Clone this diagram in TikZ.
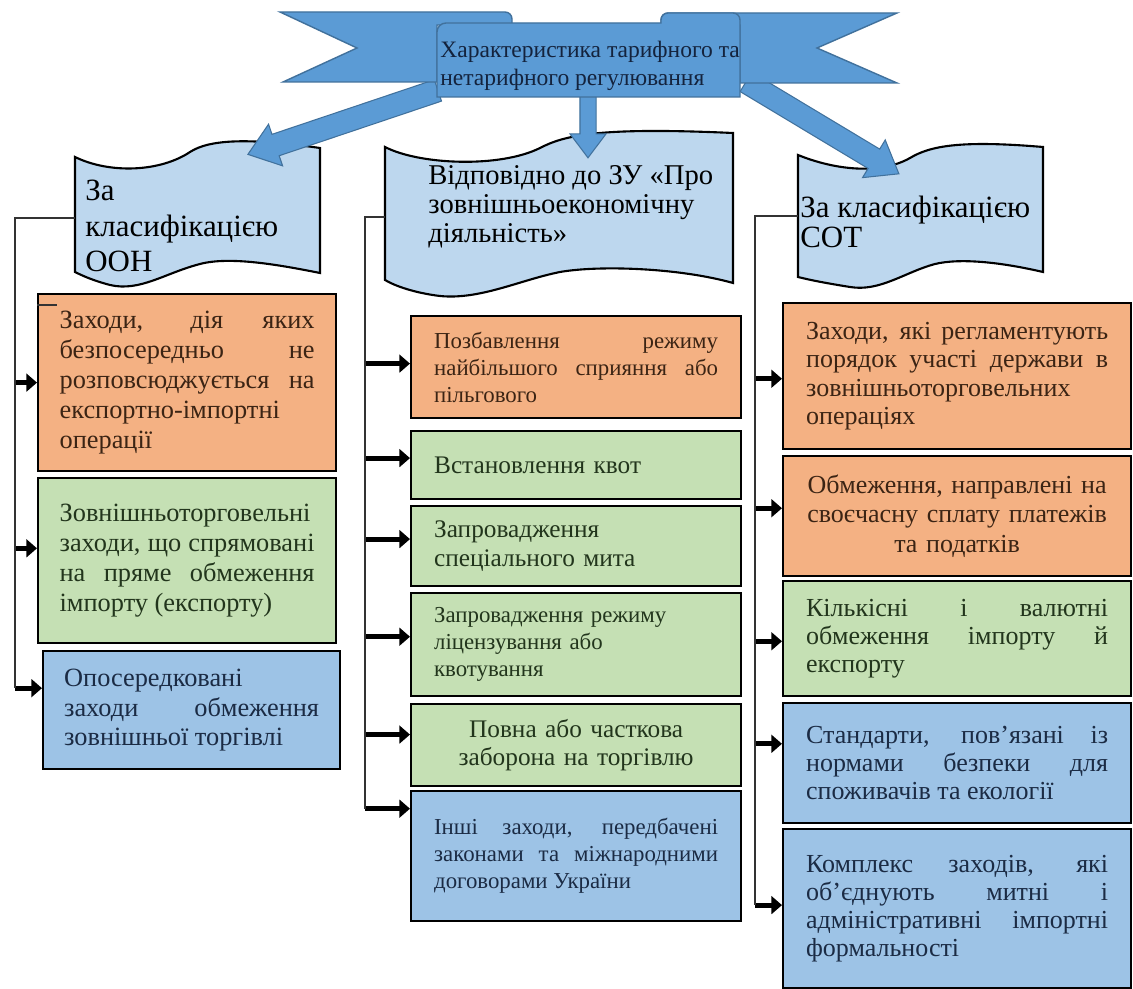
\documentclass[tikz,border=0pt]{standalone}
\usepackage{fontspec}
\setmainfont{Liberation Serif}
\usetikzlibrary{arrows.meta,shapes.arrows}
\hyphenpenalty=10000
\exhyphenpenalty=10000
\definecolor{ribbon}{HTML}{5B9BD5}
\definecolor{ribbonline}{HTML}{41719C}
\definecolor{toptext}{HTML}{14233D}
\definecolor{tapefill}{HTML}{BDD7EE}
\definecolor{orfill}{HTML}{F4B183}
\definecolor{grfill}{HTML}{C5E0B4}
\definecolor{blfill}{HTML}{9DC3E6}
\definecolor{ortext}{HTML}{3B2414}
\definecolor{grtext}{HTML}{22351C}
\definecolor{bltext}{HTML}{1B2B44}
\newcommand{\topfont}{\fontsize{13.4}{15.9}\selectfont}
\newcommand{\headfont}{\fontsize{17.6}{20}\selectfont}
\newcommand{\midheadfont}{\fontsize{16.3}{16.4}\selectfont}
\newcommand{\lcolfont}{\fontsize{15}{17}\selectfont}
\newcommand{\msmallfont}{\fontsize{13}{15.3}\selectfont}
\newcommand{\mbigfont}{\fontsize{14.4}{16.8}\selectfont}
\newcommand{\rcolfont}{\fontsize{14.8}{16.1}\selectfont}
\tikzset{
  tape/.style={fill=tapefill,draw=black,line width=1.2pt},
  band/.style={fill=ribbon,draw=ribbonline,line width=0.8pt},
  blockarrow/.style={single arrow,fill=ribbon,draw=ribbonline,line width=0.6pt,
    single arrow head extend=0.2cm,single arrow tip angle=74,inner sep=0.2cm,minimum width=0.88cm},
  headtext/.style={font=\headfont,align=left,inner sep=0,anchor=west},
  box/.style={draw=black,line width=1.3pt,anchor=north west,inner ysep=2pt,align=justify},
  orbox/.style={box,fill=orfill,text=ortext},
  grbox/.style={box,fill=grfill,text=grtext},
  blbox/.style={box,fill=blfill,text=bltext},
  bus/.style={draw=black!80,line width=0.7pt},
  flow/.style={line width=2.8pt,-{Triangle[length=6pt,width=10pt]}}
}
\begin{document}
\begin{tikzpicture}[x=0.02cm,y=-0.02cm]
\path[use as bounding box,fill=white](0,0)rectangle(1133,989);
% headers
\draw[tape](75,157)..controls(110,174)and(160,172)..(190,152)..controls(210,139)and(250,138)..(320,148)
  --(320,273)..controls(280,265)and(230,256)..(200,264)..controls(165,273)and(140,292)..(110,285)..controls(95,281)and(85,277)..(75,272)--cycle;
\draw[tape](385,147)..controls(420,165)and(500,168)..(540,148)..controls(565,135)and(600,127)..(733,133)
  --(733,283)..controls(680,268)and(600,265)..(560,272)..controls(520,280)and(480,300)..(440,296)..controls(415,293)and(395,286)..(385,280)--cycle;
\draw[tape](798,155)..controls(835,170)and(880,175)..(910,158)..controls(930,146)and(960,140)..(1043,147)
  --(1043,272)..controls(1000,262)and(960,258)..(935,264)..controls(905,272)and(880,292)..(850,287)..controls(825,283)and(810,280)..(798,277)--cycle;
\node[headtext](hleft)at(85,226){За\\класифікацією\\ООН};
\node[headtext,font=\midheadfont](hmid)at(428,207){Відповідно до ЗУ «Про\\зовнішньоекономічну\\діяльність»};
\node[headtext,font=\fontsize{17.6}{17.5}\selectfont](hright)at(800,222){За класифікацією\\СОТ};
% blue arrows
\node[blockarrow,minimum height=4.01cm,rotate=198.6](aleft)at(350,120){};
\node[blockarrow,inner sep=0.15cm,minimum width=0.7cm,minimum height=1.46cm,rotate=270](amid)at(588,116){};
\node[blockarrow,minimum height=3.57cm,rotate=-31](aright)at(816,124){};
% ribbon
\draw[band](280,12)--(505,12)to[out=0,in=90](512,19)--(512,25)--(437,25)--(437,82)--(283,82)--(357,48)--cycle;
\draw[band](897,13)--(668,13)to[out=180,in=90](661,20)--(661,25)--(740,25)--(740,83)--(897,83)--(817,48)--cycle;
\draw[band](437,32)to[out=90,in=180](446,23)--(661,23)--(661,20)to[out=90,in=180](668,13)--(733,13)to[out=0,in=90](740,20)--(740,97)--(437,97)--cycle;
\node[font=\topfont,text=toptext,align=left,anchor=west,inner sep=0](htop)at(440,66){Характеристика тарифного та\\нетарифного регулювання};
% left column
\node[orbox,font=\lcolfont,text width=5.1cm,inner xsep=0.43cm,minimum height=3.54cm](l1)at(37,293){Заходи, дія яких\linebreak безпосередньо не\linebreak розповсюджується на\linebreak експортно-імпортні\linebreak операції};
\node[grbox,font=\lcolfont,text width=5.1cm,inner xsep=0.43cm,minimum height=3.3cm](l2)at(37,477){Зовнішньоторговельні\linebreak заходи, що спрямовані\linebreak на пряме обмеження\linebreak імпорту (експорту)};
\node[blbox,font=\lcolfont,text width=5.1cm,inner xsep=0.42cm,minimum height=2.36cm](l3)at(42,650){Опосередковані\linebreak заходи обмеження\linebreak зовнішньої торгівлі};
% middle column
\node[orbox,font=\msmallfont,text width=5.68cm,inner xsep=0.46cm,minimum height=2.04cm](m1)at(410,315){Позбавлення режиму\linebreak найбільшого сприяння або\linebreak пільгового};
\node[grbox,font=\mbigfont,align=left,text width=5.68cm,inner xsep=0.46cm,minimum height=1.36cm](m2)at(410,430){Встановлення квот};
\node[grbox,font=\mbigfont,align=left,text width=5.68cm,inner xsep=0.46cm,minimum height=1.6cm](m3)at(410,505){Запровадження\\спеціального мита};
\node[grbox,font=\msmallfont,align=left,text width=5.68cm,inner xsep=0.46cm,minimum height=2.06cm](m4)at(410,592){Запровадження режиму\\ліцензування або\\квотування};
\node[grbox,font=\fontsize{14.4}{16.4}\selectfont,align=center,text width=5.68cm,inner xsep=0.46cm,minimum height=1.64cm](m5)at(410,703){Повна або часткова\\заборона на торгівлю};
\node[blbox,font=\msmallfont,text width=5.68cm,inner xsep=0.46cm,minimum height=2.6cm](m6)at(410,790){Інші заходи, передбачені\linebreak законами та міжнародними\linebreak договорами України};
% right column
\node[orbox,font=\rcolfont,text width=6.04cm,inner xsep=0.46cm,minimum height=2.92cm](r1)at(782,302){Заходи, які регламентують\linebreak порядок участі держави в\linebreak зовнішньоторговельних\linebreak операціях};
\node[orbox,font=\fontsize{14.8}{17}\selectfont,align=center,text width=6.04cm,inner xsep=0.46cm,minimum height=2.4cm](r2)at(782,455){Обмеження, направлені на\\своєчасну сплату платежів\\та податків};
\node[grbox,font=\rcolfont,text width=6.04cm,inner xsep=0.46cm,minimum height=2.3cm](r3)at(782,580){Кількісні і валютні\linebreak обмеження імпорту й\linebreak експорту};
\node[blbox,font=\rcolfont,text width=6.04cm,inner xsep=0.46cm,minimum height=2.4cm](r4)at(782,702){Стандарти, пов’язані із\linebreak нормами безпеки для\linebreak споживачів та екології};
\node[blbox,font=\rcolfont,text width=6.04cm,inner xsep=0.46cm,minimum height=3.18cm](r5)at(782,828){Комплекс заходів, які\linebreak об’єднують митні і\linebreak адміністративні імпортні\linebreak формальності};
% connectors
\coordinate(lhead)at(75,218);
\coordinate(lbus)at(15,218);
\coordinate(mhead)at(385,217);
\coordinate(mbus)at(365,217);
\coordinate(rhead)at(798,216);
\coordinate(rbus)at(755,216);
\foreach \b/\s in {l1/0pt,l2/7pt,l3/12.5pt}{\coordinate(in\b)at([yshift=\s]\b.west);\draw[flow](lbus|-in\b)--(in\b);}
\foreach \b/\s in {m1/2pt,m2/4pt,m3/4pt,m4/4.5pt,m5/6pt,m6/27pt}{\coordinate(in\b)at([yshift=\s]\b.west);\draw[flow](mbus|-in\b)--(in\b);}
\foreach \b/\s in {r1/-1.5pt,r2/4.5pt,r3/-1.5pt,r4/11pt,r5/2pt}{\coordinate(in\b)at([yshift=\s]\b.west);\draw[flow](rbus|-in\b)--(in\b);}
\draw[bus](lhead)--(lbus)--(lbus|-inl3);
\draw[bus](mhead)--(mbus)--(mbus|-inm6);
\draw[bus](rhead)--(rbus)--(rbus|-inr5);
\draw[bus]([yshift=-6.8pt]l1.north west)--++(20,0);
\end{tikzpicture}
\end{document}
